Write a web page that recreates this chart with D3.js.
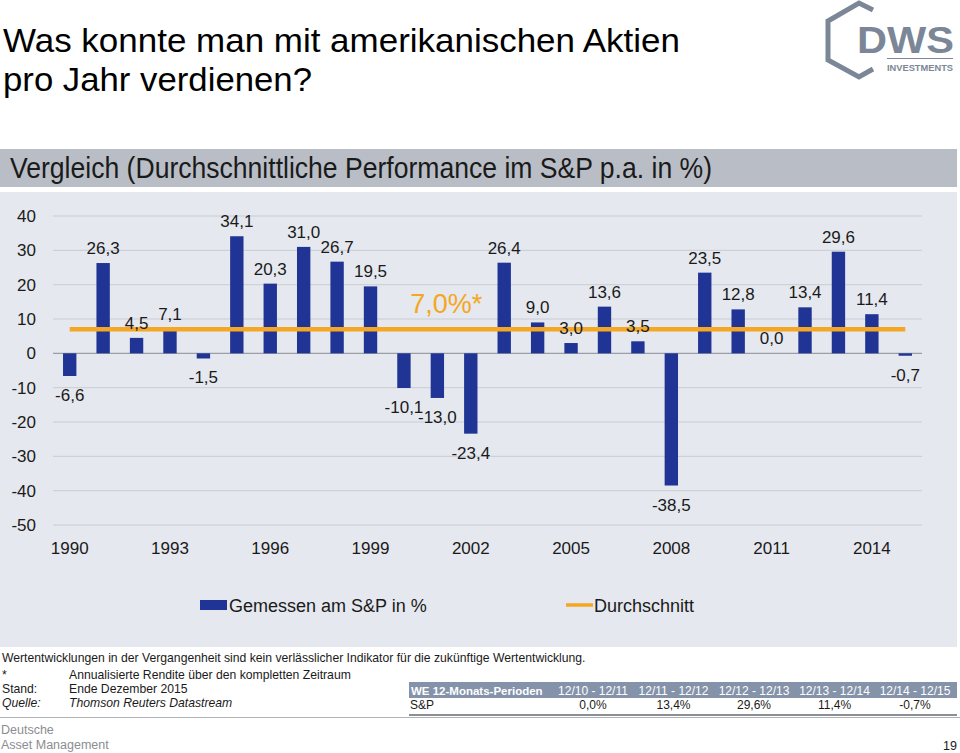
<!DOCTYPE html>
<html><head><meta charset="utf-8">
<script src="https://cdn.jsdelivr.net/npm/d3@7"></script>
<style>
html,body{margin:0;padding:0;background:#fff;}
svg{display:block;font-family:"Liberation Sans",Arial,Helvetica,sans-serif;}
</style></head>
<body>
<svg id="c" width="960" height="753"></svg>
<script>
// ---- data ----
const years = [1990,1991,1992,1993,1994,1995,1996,1997,1998,1999,2000,2001,2002,2003,2004,2005,2006,2007,2008,2009,2010,2011,2012,2013,2014,2015];
const returns = [-6.6,26.3,4.5,7.1,-1.5,34.1,20.3,31.0,26.7,19.5,-10.1,-13.0,-23.4,26.4,9.0,3.0,13.6,3.5,-38.5,23.5,12.8,0.0,13.4,29.6,11.4,-0.7];
const average = 7.0;
const yTicks = [40,30,20,10,0,-10,-20,-30,-40,-50];
const xTickYears = [1990,1993,1996,1999,2002,2005,2008,2011,2014];
const tablePeriods = ["12/10 - 12/11","12/11 - 12/12","12/12 - 12/13","12/13 - 12/14","12/14 - 12/15"];
const tableValues = [0.0,13.4,29.6,11.4,-0.7];

const fmt = v => d3.format(".1f")(v).replace(".", ",").replace("−","-");

const svg = d3.select("#c");
const BLUE = "#1f3494", ORANGE = "#f5a623";

// ---- title ----
svg.append("text").attr("x",3).attr("y",52).attr("font-size",34).attr("fill","#000")
  .attr("textLength",677).attr("lengthAdjust","spacingAndGlyphs")
  .text("Was konnte man mit amerikanischen Aktien");
svg.append("text").attr("x",3).attr("y",91).attr("font-size",34).attr("fill","#000")
  .attr("textLength",309).attr("lengthAdjust","spacingAndGlyphs")
  .text("pro Jahr verdienen?");

// ---- logo ----
const logo = svg.append("g");
logo.append("path")
  .attr("d","M873,10 L859,3 L828,21 L828,60 L859,77 L873,69")
  .attr("fill","none").attr("stroke","#7b8797").attr("stroke-width",5).attr("stroke-linejoin","miter");
logo.append("text").attr("x",954).attr("y",53).attr("text-anchor","end")
  .attr("font-size",36).attr("font-weight","bold").attr("fill","#7b8797")
  .attr("textLength",97).attr("lengthAdjust","spacingAndGlyphs").text("DWS");
logo.append("line").attr("x1",887).attr("x2",953).attr("y1",58.5).attr("y2",58.5)
  .attr("stroke","#7b8797").attr("stroke-width",1);
logo.append("text").attr("x",953).attr("y",71).attr("text-anchor","end")
  .attr("font-size",8.5).attr("font-weight","bold").attr("fill","#7b8797")
  .attr("textLength",66).attr("lengthAdjust","spacingAndGlyphs").text("INVESTMENTS");

// ---- subtitle band ----
svg.append("rect").attr("x",0).attr("y",149).attr("width",957).attr("height",38).attr("fill","#b9bec6");
svg.append("text").attr("x",10).attr("y",178).attr("font-size",29)
  .attr("font-family","'Liberation Sans Narrow','Liberation Sans',Arial,sans-serif")
  .attr("fill","#1a1a1a").attr("textLength",702).attr("lengthAdjust","spacingAndGlyphs")
  .text("Vergleich (Durchschnittliche Performance im S&P p.a. in %)");

// ---- chart panel ----
svg.append("rect").attr("x",0).attr("y",192).attr("width",957).attr("height",455).attr("fill","#e5e8ee");

const x = d3.scaleBand().domain(years).range([53,922]).paddingInner(0.6).paddingOuter(0.3);
const y = d3.scaleLinear().domain([-50,40]).range([525,216]);
const cx = d => x(d) + x.bandwidth()/2;

const g = svg.append("g");
// gridlines
g.selectAll("line.grid").data(yTicks).join("line")
  .attr("x1",53).attr("x2",922).attr("y1",d=>y(d)).attr("y2",d=>y(d))
  .attr("stroke",d=>d===0?"#9a9ea6":"#c9ccd3").attr("stroke-width",d=>d===0?1.2:1);

// y axis labels
const yAxis = d3.axisLeft(y).tickValues(yTicks).tickSize(0).tickPadding(0).tickFormat(d=>String(d));
const ya = g.append("g").attr("transform","translate(36,0)").call(yAxis);
ya.select(".domain").remove();
ya.selectAll("text").attr("font-size",17).attr("fill","#1a1a1a")
  .attr("font-family","'Liberation Sans',Arial,sans-serif");

// x axis labels
const xAxis = d3.axisBottom(x).tickValues(xTickYears).tickSize(0).tickPadding(0);
const xa = g.append("g").attr("transform","translate(0,542)").call(xAxis);
xa.select(".domain").remove();
xa.selectAll("text").attr("font-size",17).attr("fill","#1a1a1a")
  .attr("font-family","'Liberation Sans',Arial,sans-serif");

// bars
g.selectAll("rect.bar").data(years).join("rect")
  .attr("x",d=>x(d)).attr("width",x.bandwidth())
  .attr("y",(d,i)=>y(Math.max(0,returns[i])))
  .attr("height",(d,i)=>Math.abs(y(returns[i])-y(0)))
  .attr("fill",BLUE);

// average line
g.append("line").attr("x1",cx(years[0])).attr("x2",cx(years[years.length-1]))
  .attr("y1",y(average)).attr("y2",y(average)).attr("stroke",ORANGE).attr("stroke-width",4.5);

// data labels
g.selectAll("text.lbl").data(years).join("text")
  .attr("x",d=>cx(d))
  .attr("y",(d,i)=>returns[i]<0 ? y(returns[i])+25 : y(returns[i])-9)
  .attr("text-anchor","middle").attr("font-size",17).attr("fill","#1a1a1a")
  .text((d,i)=>fmt(returns[i]));

// average label
g.append("text").attr("x",cx(2001)+9).attr("y",y(average)-16).attr("text-anchor","middle")
  .attr("font-size",27).attr("fill",ORANGE).text(fmt(average)+"%*");

// legend
svg.append("rect").attr("x",200).attr("y",600).attr("width",27).attr("height",10).attr("fill",BLUE);
svg.append("text").attr("x",229).attr("y",612).attr("font-size",18).attr("fill","#1a1a1a").text("Gemessen am S&P in %");
svg.append("line").attr("x1",566).attr("x2",593).attr("y1",605).attr("y2",605).attr("stroke",ORANGE).attr("stroke-width",3.5);
svg.append("text").attr("x",594).attr("y",612).attr("font-size",18).attr("fill","#1a1a1a").text("Durchschnitt");

// footer notes
const foot = svg.append("g").attr("font-size",12.2).attr("fill","#1a1a1a");
foot.append("text").attr("x",2).attr("y",662).text("Wertentwicklungen in der Vergangenheit sind kein verlässlicher Indikator für die zukünftige Wertentwicklung.");
foot.append("text").attr("x",2).attr("y",679).text("*");
foot.append("text").attr("x",69).attr("y",679).text("Annualisierte Rendite  über den kompletten Zeitraum");
foot.append("text").attr("x",2).attr("y",693).text("Stand:");
foot.append("text").attr("x",69).attr("y",693).text("Ende Dezember 2015");
foot.append("text").attr("x",2).attr("y",707).attr("font-style","italic").text("Quelle:");
foot.append("text").attr("x",69).attr("y",707).attr("font-style","italic").text("Thomson Reuters Datastream");

svg.append("line").attr("x1",0).attr("x2",960).attr("y1",717.5).attr("y2",717.5).attr("stroke","#b0b4ba").attr("stroke-width",1);
svg.append("text").attr("x",1).attr("y",734).attr("font-size",12.5).attr("fill","#8a8d92").text("Deutsche");
svg.append("text").attr("x",1).attr("y",749).attr("font-size",12.5).attr("fill","#8a8d92").text("Asset Management");
svg.append("text").attr("x",957).attr("y",750).attr("text-anchor","end").attr("font-size",12.5).attr("fill","#1a1a1a").text("19");

// table
const colX = d3.scalePoint().domain(tablePeriods).range([593,915]);
svg.append("rect").attr("x",409).attr("y",682).attr("width",548).attr("height",16).attr("fill","#8593aa");
svg.append("text").attr("x",411).attr("y",694.5).attr("font-size",11.5).attr("font-weight","bold").attr("fill","#fff").text("WE 12-Monats-Perioden");
svg.selectAll("text.ph").data(tablePeriods).join("text")
  .attr("x",d=>colX(d)).attr("y",694.5).attr("text-anchor","middle")
  .attr("font-size",12).attr("fill","#fff").text(d=>d);
svg.append("text").attr("x",410).attr("y",709).attr("font-size",12).attr("fill","#1a1a1a").text("S&P");
svg.selectAll("text.pv").data(tablePeriods).join("text")
  .attr("x",d=>colX(d)).attr("y",709).attr("text-anchor","middle")
  .attr("font-size",12).attr("fill","#1a1a1a").text((d,i)=>fmt(tableValues[i])+"%");
svg.append("line").attr("x1",409).attr("x2",957).attr("y1",715).attr("y2",715).attr("stroke","#666a70").attr("stroke-width",1.5);
</script>
</body></html>
